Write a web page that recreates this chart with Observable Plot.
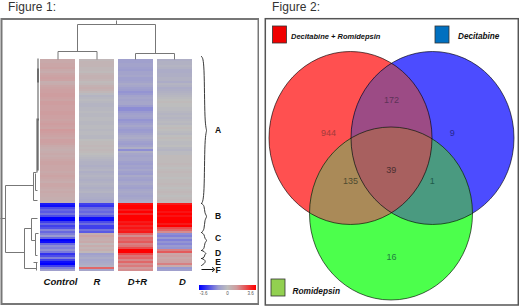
<!DOCTYPE html>
<html>
<head>
<meta charset="utf-8">
<script src="https://cdn.jsdelivr.net/npm/d3@7"></script>
<script src="https://cdn.jsdelivr.net/npm/@observablehq/plot@0.6"></script>
<style>
html,body{margin:0;padding:0;background:#fff;width:520px;height:306px;overflow:hidden}
#page{position:relative;width:520px;height:306px;font-family:"Liberation Sans",Arial,sans-serif}
.fig{position:absolute;top:0;font-size:12px;line-height:14px;color:#333;letter-spacing:.1px}
#left,#right{position:absolute}
#left{left:0;top:17px}
#right{left:264px;top:17px}
svg{display:block;background:transparent}
</style>
</head>
<body>
<div id="page">
<div class="fig" style="left:8px;top:0">Figure 1:</div>
<div class="fig" style="left:272px;top:0">Figure 2:</div>
<div id="left"></div>
<div id="right"></div>
</div>
<script>
// ---------- Figure 1: expression heat map values (one list per sample, read row by row) ----------
const samples = ["Control", "R", "D+R", "D"];
const controlValues = [
0.7,0.7,0.8,0.8,0.9,0.7,0.6,0.8,0.9,1.0,0.9,0.5,0.6,0.8,0.9,1.0,1.0,1.1,1.1,1.0,0.9,1.1,1.1,1.0,1.0,
1.0,1.1,1.1,1.0,1.0,0.9,1.0,1.1,1.0,0.9,1.2,1.1,1.0,0.9,0.8,1.0,1.0,0.9,0.7,0.6,0.5,0.6,0.7,0.6,0.7,
0.8,0.9,0.9,0.8,0.8,0.8,0.7,0.8,0.9,0.8,0.7,0.6,0.8,0.8,0.7,0.6,0.7,0.6,0.6,0.5,0.5,0.4,
-3.2,-3.4,-2.4,-2.0,-2.2,-1.8,-2.4,-3.6,-3.6,-2.6,-2.0,-2.6,-2.3,-1.5,-2.0,-1.6,-1.2,-2.0,-3.6,-3.4,
-2.0,-1.4,-1.6,-1.3,-1.7,-2.8,-2.4,-1.6,-2.6,-3.4,-3.6,-2.6,-1.6,-1.0];
const rValues = [
0.2,0.3,0.3,0.3,0.2,0.2,0.1,0.3,0.4,0.4,0.3,0.1,0.2,0.4,0.5,0.4,0.2,-0.1,-0.3,-0.2,-0.1,-0.2,-0.3,-0.3,-0.2,
-0.2,-0.1,-0.2,-0.2,-0.1,-0.1,-0.2,-0.2,-0.1,-0.1,-0.2,-0.1,-0.1,-0.2,-0.2,0,0.1,0.1,0.2,0.1,0.2,0.1,0,-0.1,-0.2,
-0.3,-0.4,-0.4,-0.5,-0.4,-0.3,-0.5,-0.4,-0.3,-0.4,-0.5,-0.4,-0.3,-0.4,-0.5,-0.4,-0.3,-0.5,-0.5,-0.6,-0.7,-0.7,
-2.6,-2.8,-2.0,-1.8,-2.0,-1.7,-2.2,-3.4,-3.4,-2.4,-1.9,-2.6,-2.6,-1.8,-2.2,0.5,0.9,0.6,0.5,0.7,
0.2,0.6,0.3,0.5,0.2,-1.0,-0.8,-0.6,-0.8,-0.7,-0.6,-0.4,2.0,-0.8];
const drValues = [
-1.0,-1.0,-0.9,-0.9,-1.0,-1.1,-0.9,-0.9,-0.8,-1.0,-1.0,-0.9,-0.7,-0.8,-1.0,-1.1,-1.3,-1.2,-0.9,-0.8,-0.9,-0.8,-0.8,-1.1,-1.4,
-1.4,-1.2,-1.0,-0.9,-1.0,-1.3,-1.2,-1.0,-0.8,-1.0,-1.2,-1.1,-0.9,-0.7,-0.6,-0.8,-1.0,-1.1,-0.9,-0.5,-1.4,-0.5,-0.8,-0.9,-0.8,
-0.8,-1.0,-1.1,-0.9,-1.0,-0.8,-1.0,-1.1,-0.7,-0.9,-1.0,-0.8,-0.7,-0.9,-1.0,-0.8,-0.7,-0.8,-0.9,-0.8,-0.7,-0.6,
3.4,3.6,3.6,3.2,3.6,3.0,3.6,3.6,3.6,3.2,3.4,3.0,3.3,3.0,3.2,2.0,1.4,2.0,1.9,2.2,
1.6,1.8,2.4,3.6,3.6,2.4,1.8,2.0,1.5,2.0,1.4,1.7,1.2,1.4];
const dValues = [
-0.5,-0.4,-0.4,-0.3,-0.4,-0.6,-0.6,-0.5,-0.5,-0.4,-0.4,-0.6,-0.3,-0.4,-0.6,-0.5,-0.4,-0.3,-0.2,-0.1,0,0.1,0,0,-0.1,
-0.1,-0.2,-0.3,-0.2,-0.3,-0.2,-0.1,-0.2,0,0.1,0,-0.1,-0.2,0,0.1,0,-0.1,-0.1,0,-0.2,-0.3,-0.1,-0.1,0.1,0.1,
0.1,0.1,0.2,0.1,0,0.1,0.2,0.1,0.1,0,0.1,0.1,0.2,0.1,0,0.1,0.2,0.1,0,0.1,0.2,0.1,
3.2,3.6,3.6,3.6,3.3,3.6,3.3,3.6,3.6,3.6,3.2,3.6,2.4,2.0,1.4,-1.4,-1.6,-1.2,-1.6,-1.3,
-1.5,-1.2,-1.3,1.6,2.2,0.8,1.0,0.7,0.9,1.0,1.6,0.6,-1.2,-1.0];
const sampleValues = [controlValues, rValues, drValues, dValues];
const colorDomain = [-3.6, -1.2, 0, 1.2, 3.6];
const colorRange = ["#0000ff", "#9a9ad0", "#bdbdbd", "#d09a9c", "#ff0000"];
const clusterNames = ["A", "B", "C", "D", "E", "F"];
const clusterLabelY = [130, 216, 238, 253, 261.5, 270];
const rampTicks = [-3.6, 0, 3.6];

// layout of the left panel (the panel's x/y scales run in page pixels)
const heatLeft = 40, columnStep = 39, columnWidth = 35, heatTop = 59, rowHeight = 2;
const sampleLabelX = [60, 96.5, 137, 182];

// dendrogram segments: x1,y1,x2,y2
const topTree = [
  [116,20,116,24],[77,24,155,24],[77,24,77,51],[155,24,155,53],
  [57.5,51,96.5,51],[135,53,174,53],
  [57.5,51,57.5,59],[96.5,51,96.5,59],[135,53,135,59],[174,53,174,59]];
const sideTree = [
  [0,218,5,218],[5,185,5,252],[5,185,33,185],[33,172,33,200],[33,172,36,172],[33,200,37,200],
  [35,173,35,190],[35,190,37,190],[5,252,24,252],[24,228,24,268],[24,228,31,228],[31,218,31,240],
  [31,218,37,218],[31,240,35,240],[35,233,35,255],[35,233,38,233],[35,255,37,255],[24,268,36,268],
  [36,262,36,270],[33,262,37,262]];
const sideTreeTrunk = [[37.5,58,37.5,120],[36.5,118,36.5,172]];
const sideTreeDark = [[37.5,68,37.5,82],[37.5,118,37.5,170]];
const braces = [
  [[201,56],[204,60],[204,126],[207,130],[204,134],[204,198],[201,203]],
  [[201,203],[204,205],[204,213],[207,216],[204,219],[204,229],[201,232]],
  [[201,232],[204,234],[204,238],[207,240],[204,242],[204,248],[201,250]],
  [[201,250],[204,251],[204,252],[206,253],[204,254],[204,257],[201,258]],
  [[201,258],[204,259],[205,261],[204,263],[201,265]]];

const heatRows = sampleValues.flatMap((vals, c) => vals.map((v, r) => ({
  x1: heatLeft + c * columnStep, x2: heatLeft + c * columnStep + columnWidth,
  y1: heatTop + r * rowHeight, y2: heatTop + (r + 1) * rowHeight, v})));
const rampValues = d3.range(-3.6, 3.6001, 7.2 / 56);
const ramp = rampValues.map((v, i) => ({x1: 199 + i, x2: 200 + i, v}));
const seg = a => a.map(([x1, y1, x2, y2]) => ({x1, y1, x2, y2}));
const braceLines = braces.flatMap((b, z) => b.map(([x, y]) => ({x, y, z})));

const leftPlot = Plot.plot({
  width: 259, height: 288, margin: 0, style: {background: "transparent"},
  x: {domain: [0, 259], axis: null}, y: {domain: [17, 305], axis: null, reverse: true},
  color: {type: "linear", domain: colorDomain, range: colorRange},
  marks: [
    Plot.frame({stroke: "#777", strokeWidth: 2, insetLeft: 1, insetTop: 1.5, insetRight: 1, insetBottom: 1.5}),
    Plot.rect(heatRows, {x1: "x1", x2: "x2", y1: "y1", y2: "y2", fill: "v", imageFilter: "blur(0.45px)"}),
    Plot.link(seg(sideTreeTrunk), {x1: "x1", y1: "y1", x2: "x2", y2: "y2", stroke: "#a8a8a8", strokeWidth: 2}),
    Plot.link(seg(sideTreeDark), {x1: "x1", y1: "y1", x2: "x2", y2: "y2", stroke: "#333", strokeWidth: 1}),
    Plot.link(seg(sideTree), {x1: "x1", y1: "y1", x2: "x2", y2: "y2", stroke: "#777", strokeWidth: 1}),
    Plot.link(seg(topTree), {x1: "x1", y1: "y1", x2: "x2", y2: "y2", stroke: "#777", strokeWidth: 1}),
    Plot.line(braceLines, {x: "x", y: "y", z: "z", stroke: "#222", strokeWidth: 0.9, curve: "basis"}),
    Plot.link([{x1: 201, x2: 213, y: 269}], {x1: "x1", x2: "x2", y1: "y", y2: "y", stroke: "#111", strokeWidth: 1, markerEnd: "arrow"}),
    Plot.text(clusterNames, {x: () => 217.5, y: (d, i) => clusterLabelY[i], text: d => d, fontSize: 8.5, fontWeight: "bold", fill: "#111", fontFamily: "Liberation Sans"}),
    Plot.text(samples, {x: (d, i) => sampleLabelX[i], y: () => 281, text: d => d, fontSize: 9.5, fontWeight: "bold", fontStyle: "italic", fill: "#111", fontFamily: "Liberation Sans"}),
    Plot.rect(ramp, {x1: "x1", x2: "x2", y1: () => 285, y2: () => 290, fill: "v"}),
    Plot.text(rampTicks, {x: (d, i) => [203, 227, 250][i], y: () => 293.5, text: d => String(d), fontSize: 4.5, fill: "#555", fontFamily: "Liberation Sans"})
  ]
});
document.getElementById("left").append(leftPlot);

// ---------- Figure 2: Venn diagram ----------
const setNames = ["Decitabine + Romidepsin", "Decitabine", "Romidepsin"];
const setLabelSize = [7.5, 8.2, 8.3];
const regionCounts = [944, 172, 9, 135, 39, 1, 16];
const regionX = [328, 391, 451.7, 350, 390.7, 431.7, 391];
const regionY = [133, 100, 133, 181, 170, 181, 257];
const regionInk = ["#a33a3a", "#5c3358", "#28288f", "#4f4a30", "#4a2f2f", "#1f5a4a", "#1f8040"];
const circleX = [350, 432, 390.5];
const circleY = [137.5, 137.5, 213];
const circleFill = ["#ff5050", "#4c4cff", "#4cff4c"];
const overlapFill = {rb: "#9c4b85", rg: "#aa8a58", bg: "#4a9a80", rbg: "#a8605f"};
const swatchFill = ["#f00000", "#0070c0", "#92d050"];
const swatchX = [272.5, 435, 271];
const swatchY = [26, 26, 279];
const setLabelX = [290.5, 457.5, 292];
const setLabelY = [36, 36, 291];

const circles = circleX.map((x, i) => ({x, y: circleY[i], fill: circleFill[i]}));
// a circle stretched a little in height, as in the picture
const tallCircle = {draw(ctx, size) {
  const rx = Math.sqrt(size / Math.PI), ry = rx * 1.0613, k = 0.5523;
  ctx.moveTo(rx, 0);
  ctx.bezierCurveTo(rx, k * ry, k * rx, ry, 0, ry);
  ctx.bezierCurveTo(-k * rx, ry, -rx, k * ry, -rx, 0);
  ctx.bezierCurveTo(-rx, -k * ry, -k * rx, -ry, 0, -ry);
  ctx.bezierCurveTo(k * rx, -ry, rx, -k * ry, rx, 0);
  ctx.closePath();
}};
const ellipse = (data, opts) => Plot.dot(data, {x: "x", y: "y", r: 81.5, symbol: tallCircle, ...opts});
const swatches = swatchX.map((x, i) => ({x1: x, x2: x + 14, y1: swatchY[i], y2: swatchY[i] + 17, fill: swatchFill[i]}));

const rightPlot = Plot.plot({
  width: 255, height: 289, margin: 0, style: {background: "transparent"},
  x: {domain: [264, 519], axis: null}, y: {domain: [17, 306], axis: null, reverse: true},
  marks: [
    Plot.frame({stroke: "#555", strokeWidth: 1.5, insetLeft: 0.8, insetTop: 1.2, insetRight: 1.2, insetBottom: 1.5}),
    ellipse(circles.slice(0, 1), {fill: "fill", className: "c-red"}),
    ellipse(circles.slice(1, 2), {fill: "fill", className: "c-blue"}),
    ellipse(circles.slice(2, 3), {fill: "fill", className: "c-green"}),
    ellipse(circles.slice(1, 2), {fill: () => overlapFill.rb, className: "o-rb"}),
    ellipse(circles.slice(2, 3), {fill: () => overlapFill.rg, className: "o-rg"}),
    ellipse(circles.slice(2, 3), {fill: () => overlapFill.bg, className: "o-bg"}),
    ellipse(circles.slice(2, 3), {fill: () => overlapFill.rbg, className: "o-rbg"}),
    ellipse(circles, {fill: "none", stroke: "#000", strokeOpacity: 0.62, strokeWidth: 1}),
    Plot.text(regionCounts, {x: (d, i) => regionX[i], y: (d, i) => regionY[i], text: d => String(d), fill: (d, i) => regionInk[i], fontSize: 9, fontFamily: "Liberation Sans"}),
    Plot.rect(swatches, {x1: "x1", x2: "x2", y1: "y1", y2: "y2", fill: "fill", stroke: "#333", strokeWidth: 0.8}),
    Plot.text(setNames, {x: (d, i) => setLabelX[i], y: (d, i) => setLabelY[i], text: d => d, textAnchor: "start", fontSize: (d, i) => setLabelSize[i], fontWeight: "bold", fontStyle: "italic", fill: "#111", fontFamily: "Liberation Sans"})
  ],
  color: {type: "identity"}
});
document.getElementById("right").append(rightPlot);

// clip the overlap layers to the other circles so each Venn region has its own colour
const svg = d3.select(rightPlot);
const defs = svg.insert("defs", ":first-child");
function makeClip(id, cls, parent) {
  const src = svg.select(`g.${cls} path`);
  const cp = defs.append("clipPath").attr("id", id);
  if (parent) cp.attr("clip-path", `url(#${parent})`);
  cp.append("path").attr("d", src.attr("d")).attr("transform", src.attr("transform"));
}
makeClip("clip-red", "c-red");
makeClip("clip-blue", "c-blue");
makeClip("clip-red-blue", "c-blue", "clip-red");
svg.select("g.o-rb").attr("clip-path", "url(#clip-red)");
svg.select("g.o-rg").attr("clip-path", "url(#clip-red)");
svg.select("g.o-bg").attr("clip-path", "url(#clip-blue)");
svg.select("g.o-rbg").attr("clip-path", "url(#clip-red-blue)");
</script>
</body>
</html>
